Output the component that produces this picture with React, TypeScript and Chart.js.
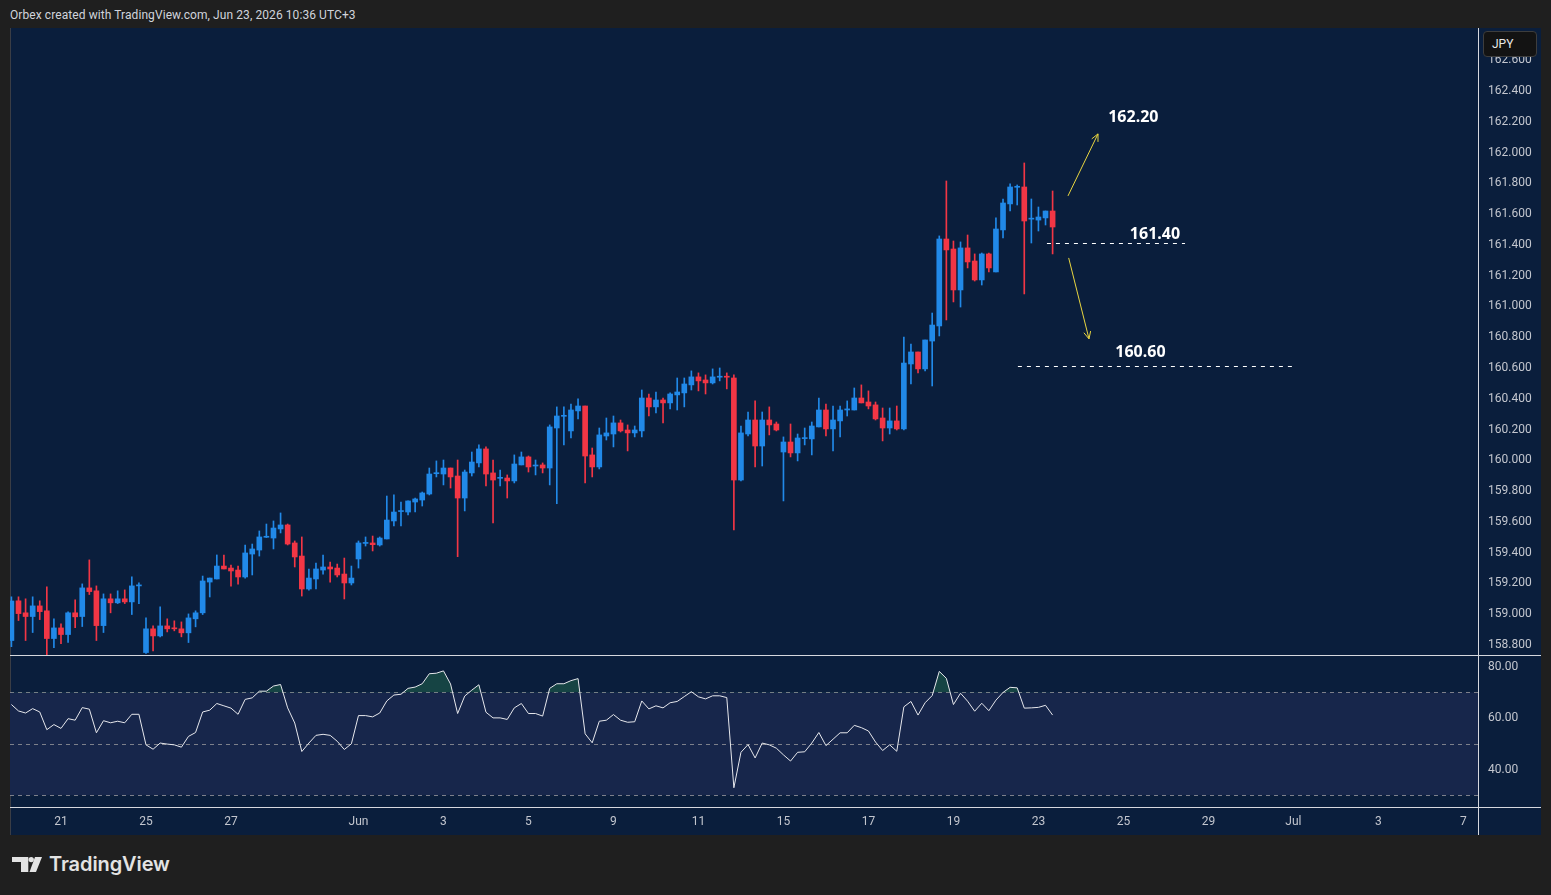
import { useEffect, useRef } from "react";
import { Chart, registerables } from "chart.js";

Chart.register(...registerables);

// USD/JPY 4-hour bars, May 19 20:00 → Jun 23 08:00 (UTC+3)
const opens = [
  158.816, 159.074, 158.996, 158.972, 159.041, 159.009, 158.829, 158.898, 158.855, 158.996,
  158.972, 159.158, 159.139, 158.913, 159.087, 159.061, 159.087, 159.067, 159.171, 158.738,
  158.892, 158.846, 158.911, 158.898, 158.892, 158.866, 158.957, 158.996, 159.196, 159.216,
  159.300, 159.287, 159.274, 159.229, 159.378, 159.404, 159.487, 159.482, 159.541, 159.567,
  159.450, 159.365, 159.151, 159.216, 159.274, 159.294, 159.287, 159.248, 159.190, 159.346,
  159.447, 159.450, 159.437, 159.476, 159.593, 159.654, 159.651, 159.716, 159.729, 159.768,
  159.900, 159.898, 159.937, 159.885, 159.742, 159.905, 159.970, 160.061, 159.905, 159.870,
  159.872, 159.853, 159.957, 160.009, 159.950, 159.957, 159.937, 160.197, 160.273, 160.178,
  160.308, 160.340, 160.022, 159.944, 160.145, 160.158, 160.230, 160.184, 160.165, 160.178,
  160.392, 160.334, 160.379, 160.360, 160.412, 160.425, 160.477, 160.529, 160.509, 160.490,
  160.527, 160.529, 160.522, 159.859, 160.158, 160.249, 160.080, 160.249, 160.223, 160.041,
  160.106, 160.035, 160.128, 160.126, 160.204, 160.314, 160.191, 160.243, 160.314, 160.314,
  160.392, 160.366, 160.347, 160.262, 160.197, 160.243, 160.191, 160.613, 160.691, 160.581,
  160.762, 160.860, 161.425, 161.360, 161.094, 161.367, 161.282, 161.159, 161.328, 161.211,
  161.484, 161.653, 161.761, 161.763, 161.554, 161.548, 161.562, 161.607,
];

const highs = [
  159.100, 159.100, 159.087, 159.100, 159.074, 159.165, 158.957, 158.924, 159.002, 159.080,
  159.184, 159.340, 159.171, 159.119, 159.119, 159.139, 159.145, 159.230, 159.191, 158.963,
  158.911, 159.035, 158.957, 158.944, 158.937, 158.989, 159.009, 159.235, 159.222, 159.372,
  159.372, 159.307, 159.300, 159.437, 159.443, 159.528, 159.573, 159.593, 159.645, 159.573,
  159.463, 159.489, 159.281, 159.320, 159.372, 159.326, 159.313, 159.352, 159.300, 159.463,
  159.489, 159.495, 159.489, 159.755, 159.762, 159.716, 159.723, 159.742, 159.781, 159.937,
  159.983, 159.989, 159.937, 159.989, 159.924, 160.041, 160.087, 160.074, 159.989, 159.924,
  159.892, 160.022, 160.041, 160.015, 159.989, 159.970, 160.217, 160.334, 160.334, 160.353,
  160.386, 160.340, 160.067, 160.197, 160.262, 160.275, 160.249, 160.217, 160.210, 160.444,
  160.418, 160.431, 160.392, 160.425, 160.522, 160.522, 160.568, 160.555, 160.542, 160.581,
  160.587, 160.555, 160.542, 160.210, 160.301, 160.373, 160.301, 160.334, 160.236, 160.139,
  160.223, 160.158, 160.197, 160.236, 160.392, 160.353, 160.340, 160.340, 160.373, 160.457,
  160.477, 160.438, 160.366, 160.327, 160.327, 160.340, 160.788, 160.743, 160.691, 160.769,
  160.944, 161.445, 161.802, 161.412, 161.406, 161.451, 161.328, 161.334, 161.334, 161.562,
  161.685, 161.783, 161.776, 161.919, 161.685, 161.633, 161.607, 161.737,
];

const lows = [
  158.776, 158.946, 158.816, 158.868, 158.952, 158.722, 158.770, 158.796, 158.803, 158.900,
  158.907, 159.115, 158.816, 158.868, 158.996, 159.056, 159.056, 158.985, 159.056, 158.732,
  158.749, 158.840, 158.872, 158.879, 158.840, 158.803, 158.905, 158.985, 159.099, 159.216,
  159.281, 159.170, 159.183, 159.222, 159.242, 159.365, 159.485, 159.411, 159.515, 159.437,
  159.294, 159.105, 159.144, 159.151, 159.248, 159.196, 159.229, 159.086, 159.177, 159.287,
  159.430, 159.398, 159.430, 159.476, 159.560, 159.560, 159.632, 159.651, 159.690, 159.762,
  159.879, 159.827, 159.807, 159.361, 159.658, 159.885, 159.944, 159.820, 159.580, 159.820,
  159.742, 159.840, 159.957, 159.911, 159.892, 159.905, 159.827, 159.705, 160.087, 160.132,
  160.256, 159.840, 159.879, 159.931, 160.119, 160.074, 160.171, 160.048, 160.139, 160.139,
  160.275, 160.295, 160.230, 160.321, 160.314, 160.334, 160.444, 160.438, 160.418, 160.483,
  160.503, 160.451, 159.535, 159.853, 160.145, 159.944, 159.950, 160.152, 160.178, 159.723,
  160.009, 159.983, 160.087, 160.022, 160.204, 160.145, 160.048, 160.139, 160.275, 160.314,
  160.360, 160.321, 160.249, 160.113, 160.158, 160.184, 160.184, 160.483, 160.555, 160.568,
  160.470, 160.795, 160.899, 161.016, 160.983, 161.237, 161.152, 161.126, 161.211, 161.211,
  161.432, 161.607, 161.646, 161.068, 161.399, 161.477, 161.516, 161.328,
];

const closes = [
  159.073, 158.991, 158.972, 159.041, 159.004, 158.829, 158.898, 158.855, 158.996, 158.970,
  159.158, 159.134, 158.913, 159.087, 159.061, 159.087, 159.067, 159.171, 159.173, 158.892,
  158.846, 158.911, 158.892, 158.892, 158.866, 158.963, 158.996, 159.203, 159.222, 159.300,
  159.281, 159.268, 159.229, 159.385, 159.411, 159.489, 159.489, 159.547, 159.567, 159.443,
  159.359, 159.151, 159.222, 159.281, 159.294, 159.281, 159.242, 159.190, 159.222, 159.450,
  159.450, 159.439, 159.482, 159.599, 159.651, 159.658, 159.723, 159.736, 159.775, 159.898,
  159.904, 159.937, 159.879, 159.742, 159.911, 159.976, 160.061, 159.898, 159.859, 159.872,
  159.853, 159.963, 160.009, 159.944, 159.953, 159.937, 160.204, 160.275, 160.275, 160.314,
  160.340, 160.015, 159.944, 160.152, 160.165, 160.230, 160.178, 160.165, 160.184, 160.392,
  160.334, 160.379, 160.360, 160.418, 160.431, 160.483, 160.529, 160.503, 160.490, 160.529,
  160.529, 160.527, 159.859, 160.165, 160.249, 160.080, 160.249, 160.217, 160.184, 160.106,
  160.035, 160.132, 160.132, 160.210, 160.314, 160.191, 160.249, 160.314, 160.321, 160.392,
  160.360, 160.340, 160.256, 160.197, 160.243, 160.191, 160.619, 160.691, 160.581, 160.769,
  160.866, 161.425, 161.354, 161.094, 161.367, 161.276, 161.159, 161.328, 161.237, 161.490,
  161.659, 161.763, 161.763, 161.542, 161.556, 161.568, 161.607, 161.503,
];

// RSI(14) per bar
const rsi14 = [
  65.3, 62.8, 62.0, 63.7, 62.4, 55.5, 57.5, 56.0, 59.8, 59.2,
  64.1, 63.5, 54.3, 59.0, 58.2, 58.8, 58.2, 61.5, 61.5, 49.6,
  47.9, 50.3, 49.9, 49.6, 48.7, 52.9, 54.4, 62.4, 63.1, 65.7,
  64.8, 63.9, 61.5, 67.3, 67.9, 70.5, 70.5, 72.5, 73.1, 64.0,
  58.1, 47.0, 50.3, 53.3, 53.7, 53.3, 51.0, 47.8, 50.0, 61.0,
  61.0, 60.5, 62.0, 66.7, 69.0, 69.3, 71.6, 72.1, 73.4, 77.3,
  77.5, 78.4, 73.3, 61.8, 68.6, 70.9, 73.0, 62.3, 60.1, 60.1,
  59.5, 64.0, 65.7, 61.8, 61.8, 60.8, 71.6, 73.4, 73.4, 74.6,
  75.4, 53.9, 50.4, 58.8, 59.2, 61.4, 59.2, 58.4, 58.6, 66.7,
  63.6, 64.8, 64.0, 66.0, 66.5, 68.4, 70.3, 68.3, 67.5, 68.7,
  68.7, 68.0, 32.9, 46.7, 49.7, 44.5, 50.3, 49.6, 48.3, 45.7,
  43.3, 46.7, 46.9, 50.3, 54.4, 49.3, 51.8, 54.3, 54.3, 57.2,
  56.3, 55.0, 50.7, 47.4, 49.6, 47.1, 64.4, 66.5, 61.2, 66.0,
  68.8, 78.2, 75.5, 65.3, 69.7, 66.6, 62.7, 65.8, 62.9, 67.0,
  70.0, 72.0, 71.8, 63.9, 64.0, 64.2, 65.0, 61.2,
];

// Time axis: bar index of each labelled day start, and its label
const dayTickBars = [7, 19, 31, 49, 61, 73, 85, 97, 109, 121, 133, 145, 157, 169, 181, 193, 205];
const dayTickLabels = ["21", "25", "27", "Jun", "3", "5", "9", "11", "15", "17", "19", "23", "25", "29", "Jul", "3", "7"];

const priceTicks = [
  158.8, 159.0, 159.2, 159.4, 159.6, 159.8, 160.0, 160.2, 160.4, 160.6,
  160.8, 161.0, 161.2, 161.4, 161.6, 161.8, 162.0, 162.2, 162.4, 162.6,
];
const rsiTicks = [40, 60, 80];
const rsiGuides = [70, 50, 30];

// Trade scenario: pivot, upside and downside targets
const pivotLevel = 161.4;
const upsideTarget = 162.2;
const downsideTarget = 160.6;

// Visible ranges
const X_MIN = -0.2;
const X_MAX = 207.06;
const PRICE_MIN = 158.722;
const PRICE_MAX = 162.796;
const RSI_MIN = 25.4;
const RSI_MAX = 84.2;

// Colours
const PAGE_BG = "#1f1f1f";
const PANE_BG = "#0a1e3c";
const BAND_BG = "#17264b";
const UP = "#2189e8";
const DOWN = "#f23645";
const AXIS_TEXT = "#c3c6ce";
const FRAME = "#d6d8de";
const ARROW = "#e9d640";
const AXIS_W = 62;

// Scenario drawing geometry, in bar-index / price units
const scenario = {
  levels: [
    { price: pivotLevel, fromBar: 146.2, toBar: 165.7 },
    { price: downsideTarget, fromBar: 142.1, toBar: 181.4 },
  ],
  labels: [
    { value: upsideTarget, bar: 158.4, price: 162.212 },
    { value: pivotLevel, bar: 161.45, price: 161.452 },
    { value: downsideTarget, bar: 159.4, price: 160.69 },
  ],
  arrows: [
    { fromBar: 149.17, fromPrice: 161.705, toBar: 153.41, toPrice: 162.108 },
    { fromBar: 149.27, fromPrice: 161.302, toBar: 152.14, toPrice: 160.776 },
  ],
};

const scenarioPlugin = {
  id: "scenario",
  afterDatasetsDraw(chart: any) {
    const { ctx, scales } = chart;
    const px = (b: number) => scales.x.getPixelForValue(b);
    const py = (p: number) => scales.y.getPixelForValue(p);
    ctx.save();
    ctx.lineWidth = 1;
    ctx.strokeStyle = "#ffffff";
    ctx.setLineDash([4, 5]);
    scenario.levels.forEach((l) => {
      const yy = Math.round(py(l.price)) + 0.5;
      ctx.beginPath();
      ctx.moveTo(px(l.fromBar), yy);
      ctx.lineTo(px(l.toBar), yy);
      ctx.stroke();
    });
    ctx.setLineDash([]);
    ctx.strokeStyle = ARROW;
    scenario.arrows.forEach((a) => {
      const x1 = px(a.fromBar), y1 = py(a.fromPrice);
      const x2 = px(a.toBar), y2 = py(a.toPrice);
      const th = Math.atan2(y2 - y1, x2 - x1);
      const head = 8, ang = Math.PI / 7;
      ctx.beginPath();
      ctx.moveTo(x1, y1);
      ctx.lineTo(x2, y2);
      ctx.moveTo(x2 - head * Math.cos(th - ang), y2 - head * Math.sin(th - ang));
      ctx.lineTo(x2, y2);
      ctx.lineTo(x2 - head * Math.cos(th + ang), y2 - head * Math.sin(th + ang));
      ctx.stroke();
    });
    ctx.fillStyle = "#ffffff";
    ctx.font = 'bold 16px "Noto Sans", sans-serif';
    ctx.textAlign = "center";
    ctx.textBaseline = "middle";
    scenario.labels.forEach((t) => {
      ctx.fillText(t.value.toFixed(2), px(t.bar), py(t.price));
    });
    ctx.restore();
  },
};

const rsiBandPlugin = {
  id: "rsiBand",
  beforeDatasetsDraw(chart: any) {
    const { ctx, chartArea: a, scales } = chart;
    const y = scales.y;
    const top = y.getPixelForValue(rsiGuides[0]);
    const bot = y.getPixelForValue(rsiGuides[rsiGuides.length - 1]);
    ctx.save();
    ctx.fillStyle = BAND_BG;
    ctx.fillRect(a.left, top, a.right - a.left, bot - top);
    ctx.strokeStyle = "#7d808b";
    ctx.lineWidth = 1;
    ctx.setLineDash([4, 4]);
    rsiGuides.forEach((v) => {
      const yy = Math.round(y.getPixelForValue(v)) + 0.5;
      ctx.beginPath();
      ctx.moveTo(a.left, yy);
      ctx.lineTo(a.right, yy);
      ctx.stroke();
    });
    ctx.restore();
  },
};

const axisFont = { family: "Roboto, sans-serif", size: 12 };

export default function App() {
  const priceRef = useRef<HTMLCanvasElement>(null);
  const rsiRef = useRef<HTMLCanvasElement>(null);

  useEffect(() => {
    const barColors = closes.map((c, i) => (c >= opens[i] ? UP : DOWN));

    const priceChart = new Chart(priceRef.current as HTMLCanvasElement, {
      type: "bar",
      data: {
        datasets: [
          {
            label: "body",
            data: opens.map((o, i) => ({ x: i, y: [o, closes[i]] })) as any,
            backgroundColor: barColors,
            barThickness: 5,
            minBarLength: 1,
            grouped: false,
            borderWidth: 0,
            order: 0,
          },
          {
            label: "wick",
            data: lows.map((l, i) => ({ x: i, y: [l, highs[i]] })) as any,
            backgroundColor: barColors,
            barThickness: 1,
            grouped: false,
            borderWidth: 0,
            order: 1,
          },
        ],
      },
      options: {
        animation: false,
        responsive: false,
        devicePixelRatio: 1,
        events: [],
        layout: { padding: 0 },
        plugins: { legend: { display: false }, tooltip: { enabled: false } },
        scales: {
          x: {
            type: "linear",
            min: X_MIN,
            max: X_MAX,
            offset: false,
            grid: { offset: false },
            display: false,
          },
          y: {
            position: "right",
            min: PRICE_MIN,
            max: PRICE_MAX,
            afterBuildTicks: (s: any) => {
              s.ticks = priceTicks.map((v) => ({ value: v }));
            },
            afterFit: (s: any) => {
              s.width = AXIS_W;
              s.paddingTop = 0;
              s.paddingBottom = 0;
            },
            grid: { display: false, drawTicks: false },
            border: { display: false },
            ticks: {
              autoSkip: false,
              padding: 10,
              labelOffset: 2,
              color: AXIS_TEXT,
              font: axisFont,
              callback: (v: any) => Number(v).toFixed(3),
            },
          },
        },
      } as any,
      plugins: [scenarioPlugin],
    });

    const rsiChart = new Chart(rsiRef.current as HTMLCanvasElement, {
      type: "line",
      data: {
        datasets: [
          {
            label: "RSI",
            data: rsi14.map((v, i) => ({ x: i, y: v })),
            borderColor: "#e6e7ec",
            borderWidth: 1,
            pointRadius: 0,
            tension: 0,
            fill: {
              target: { value: rsiGuides[0] },
              above: "rgba(40,125,80,0.4)",
              below: "rgba(0,0,0,0)",
            },
          },
        ],
      },
      options: {
        animation: false,
        responsive: false,
        devicePixelRatio: 1,
        events: [],
        layout: { padding: 0 },
        plugins: { legend: { display: false }, tooltip: { enabled: false } },
        scales: {
          x: {
            type: "linear",
            min: X_MIN,
            max: X_MAX,
            afterBuildTicks: (s: any) => {
              s.ticks = dayTickBars.map((v) => ({ value: v }));
            },
            afterFit: (s: any) => {
              s.height = 28;
              s.paddingLeft = 0;
              s.paddingRight = 0;
            },
            grid: { display: false, drawTicks: false },
            border: { display: false },
            ticks: {
              autoSkip: false,
              maxRotation: 0,
              padding: 8,
              color: AXIS_TEXT,
              font: axisFont,
              callback: (_v: any, idx: number) => dayTickLabels[idx],
            },
          },
          y: {
            position: "right",
            min: RSI_MIN,
            max: RSI_MAX,
            afterBuildTicks: (s: any) => {
              s.ticks = rsiTicks.map((v) => ({ value: v }));
            },
            afterFit: (s: any) => {
              s.width = AXIS_W;
              s.paddingTop = 0;
              s.paddingBottom = 0;
            },
            grid: { display: false, drawTicks: false },
            border: { display: false },
            ticks: {
              autoSkip: false,
              padding: 10,
              labelOffset: 0,
              color: AXIS_TEXT,
              font: axisFont,
              callback: (v: any) => Number(v).toFixed(2),
            },
          },
        },
      } as any,
      plugins: [rsiBandPlugin],
    });

    return () => {
      priceChart.destroy();
      rsiChart.destroy();
    };
  }, []);

  const abs = (s: any) => ({ position: "absolute" as const, ...s });

  return (
    <div
      style={{
        position: "fixed",
        left: 0,
        top: 0,
        width: 1551,
        height: 895,
        background: PAGE_BG,
        overflow: "hidden",
        fontFamily: "Roboto, sans-serif",
      }}
    >
      <div style={abs({ left: 10, top: 8, fontSize: 12, lineHeight: "14px", color: "#d1d4dc", whiteSpace: "nowrap", letterSpacing: "0.08px" })}>
        Orbex created with TradingView.com, Jun 23, 2026 10:36 UTC+3
      </div>
      <div style={abs({ left: 10, top: 28, width: 1531, height: 807, background: PANE_BG, borderLeft: "1px solid #3a3d45", boxSizing: "border-box" })} />
      <canvas ref={priceRef} width={1530} height={627} style={abs({ left: 10, top: 28, display: "block" })} />
      <canvas ref={rsiRef} width={1530} height={179} style={abs({ left: 10, top: 656, display: "block" })} />
      <div style={abs({ left: 1478, top: 28, width: 1, height: 807, background: FRAME })} />
      <div style={abs({ left: 10, top: 655, width: 1531, height: 1, background: FRAME })} />
      <div style={abs({ left: 10, top: 807, width: 1531, height: 1, background: FRAME })} />
      <div
        style={abs({
          left: 1483,
          top: 31,
          width: 54,
          height: 26,
          boxSizing: "border-box",
          background: "#131313",
          border: "1px solid #3d3d3d",
          borderRadius: 4,
          color: "#e8e8e8",
          fontSize: 12,
          lineHeight: "24px",
          paddingLeft: 8,
        })}
      >
        JPY
      </div>
      <svg width="34" height="18" viewBox="0 0 34 18" style={abs({ left: 11, top: 856 })}>
        <path d="M1 1H17.3V16H10V6H1Z" fill="#e3e3e3" />
        <circle cx="20.2" cy="3.6" r="2.7" fill="#e3e3e3" />
        <path d="M24 1H31L25 16H18.5Z" fill="#e3e3e3" />
      </svg>
      <div style={abs({ left: 49, top: 853, fontSize: 20, fontWeight: 600, lineHeight: "22px", color: "#e3e3e3", fontFamily: "Inter, sans-serif", letterSpacing: "-0.1px" })}>
        TradingView
      </div>
    </div>
  );
}
